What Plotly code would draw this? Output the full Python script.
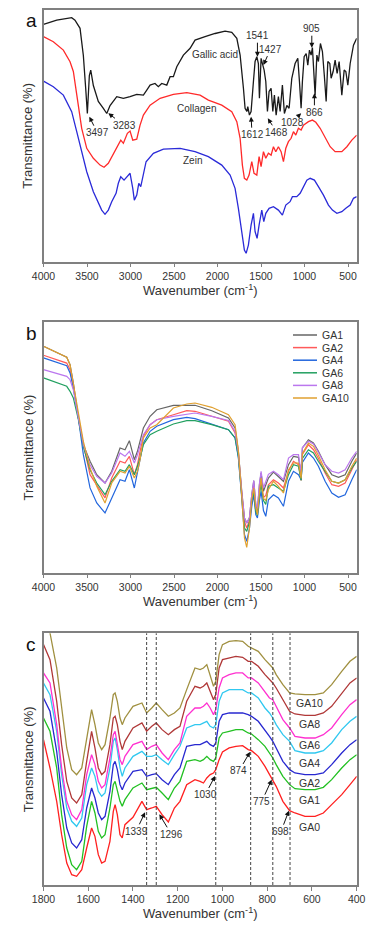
import plotly.graph_objects as go

# ---------------- Panel a data ----------------
GA_WN = [4000,3848,3676,3638,3580,3542,3515,3496,3473,3457,3427,3370,3312,3273,3235,3158,3082,3005,2928,2852,
         2813,2775,2718,2680,2641,2583,2545,2507,2468,2392,2315,2258,2143,2028,1913,1836,1778,1740,1702,1683,
         1663,1652,1633,1614,1587,1568,1548,1530,1518,1499,1479,1464,1445,1426,1407,1384,1364,1346,1326,1300,
         1280,1254,1231,1203,1177,1146,1108,1077,1058,1039,1024,1004,981,962,943,924,909,893,878,858,
         840,817,794,771,751,732,709,694,671,648,625,602,571,544,525,502,475,437,400]
GA_T = [118.6,120.7,121.9,120.7,116.6,103,86.6,74,93,95.7,88,80,76.6,74,78,82.4,81.6,82.4,83.6,83.2,
        85.7,88.2,89,87.4,89,88.2,92.4,92.4,97.4,103.2,106.6,110.7,112.4,114,115.2,114.6,111.6,103.2,86.6,76.6,
        75,77.4,73.2,75,90,100,102.4,99,81.6,101.6,98.2,95.7,90,75,85,86.6,75,83.2,73.2,82.4,
        75,88.2,74,78,76.6,91.6,99,101.6,90,76.6,90,102.4,104,98.2,105.7,103.2,107,90,83.2,103.2,
        100,109,105,92.4,80,100,99,91.6,95,100.7,94,100,83.2,95.7,95,88.2,99,108.2,111.6]

COL_WN = [4000,3887,3772,3695,3657,3618,3561,3503,3427,3350,3304,3255,3197,3140,3112,3082,3036,3005,2974,2928,
          2890,2852,2775,2660,2507,2353,2200,2105,1951,1836,1778,1740,1714,1691,1663,1637,1606,1580,1548,1522,
          1499,1472,1445,1415,1384,1357,1330,1300,1269,1242,1215,1185,1154,1127,1100,1070,1039,1012,955,909,
          870,820,763,705,648,571,513,456,400]
COL_T = [112.4,109.9,105.7,99.9,95,83.2,66.6,56.6,51.6,48.2,47.1,49.1,54.1,59.1,60.7,59.1,64.1,65.2,60.7,61.2,
         68.2,73.2,78.2,81.6,83.6,84.4,83.2,80.7,78.2,74.9,69.9,61.6,48.2,41.6,40.7,43.2,49.9,44.1,43.2,52.4,
         47.4,54.9,51.6,54.1,53.2,57.4,54.9,57.4,54.9,49.9,56.6,59.9,61.6,64.9,63.2,66.6,65.7,68.2,69.9,70.7,
         69.6,66.6,62.4,57.4,54.9,54.9,57.4,60.7,63.2]

ZEIN_WN = [4000,3887,3772,3676,3618,3561,3503,3427,3370,3331,3293,3255,3216,3166,3140,3112,3074,3036,3005,2974,
           2956,2928,2905,2882,2859,2821,2737,2622,2430,2258,2105,1951,1855,1798,1760,1721,1691,1671,1645,1614,
           1587,1568,1545,1522,1491,1468,1445,1407,1357,1300,1254,1215,1166,1139,1089,1050,1012,973,935,886,
           840,782,725,679,628,571,525,475,437,400]
ZEIN_T = [90.2,87.4,83.2,74.9,64.9,54.9,44.9,34.9,29.9,25.7,23.6,25.7,29.9,34.1,39.1,42.4,40.7,42.4,44.1,36.6,
          30.7,33.2,39.1,37.4,42.4,49.9,54.1,56.2,56.6,54.9,52.4,48.2,43.2,36.6,26.6,13.2,5.7,4.1,8.2,18.2,
          24.1,14.9,11.6,18.2,25.7,19.9,24.1,26.6,27.4,25.7,23.2,28.2,29.9,32.4,32.4,34.1,37.4,40.7,41.6,40.7,
          37.4,33.2,28.2,25.7,24.1,24.9,26.6,28.2,31.6,32.4]

A_NAMES = ["Gallic acid", "Collagen", "Zein"]
A_NAME_X = [2028, 2246, 2292]
A_NAME_Y = [103.75, 76.75, 50.75]

A_PEAK_LABELS = ["3497", "3283", "1612", "1541", "1427", "1468", "1028", "905", "866"]
A_PEAK_X = [3473, 3255, 1614, 1541, 1472, 1422, 1039, 916, 886]
A_PEAK_Y = [72.4, 74.1, 72.4, 102.4, 98.2, 71.6, 74.1, 106.9, 84.1]

# ---------------- Panel b data ----------------
B_WN = [4000,3733,3695,3657,3599,3542,3465,3388,3293,3216,3120,3063,3013,2956,2920,2890,2852,2775,2698,2507,
        2353,2258,2066,1874,1798,1760,1721,1690,1664,1633,1606,1583,1560,1541,1518,1499,1472,1445,1415,1357,
        1300,1242,1184,1127,1069,1039,1024,955,897,840,763,686,609,533,456,400]
B_NAMES = ["GA1", "GA2", "GA4", "GA6", "GA8", "GA10"]
B_GA1 = [113.1,107.6,103.9,94.8,77.3,63.9,55.6,48.9,44.75,50.6,62.25,61.4,65.9,56.4,60.6,65.6,72.25,78.1,81.4,83.6,
         83.6,83.6,80.9,77.25,72.25,60.6,40.6,27.25,24.75,27.25,38.9,45.9,33.9,31.4,43.9,49.75,40.6,43.9,47.25,50.25,
         48.1,45.6,53.9,58.1,57.6,48.9,62.25,66.4,64.75,60.6,53.9,48.9,47.6,48.9,55.6,59.75]
B_GA2 = [108.6,104.7,101.4,93.1,77.3,63.9,48.9,43.9,37.3,47.25,55.6,54.75,58.1,48.9,53.9,60.6,68.1,73.9,76.4,78.9,
         80.9,80.6,78.1,75.6,69.75,59,39.5,25.5,22.25,26,37,43.1,31.5,29.5,41,45.6,37.5,38.5,43.9,46.4,
         44.75,42.25,50.6,55.6,53.9,46,59,63.9,61.4,57,49.75,43.9,43.1,44.75,51.4,56.4]
B_GA4 = [107.3,103.4,99.8,92.3,77.3,58.9,42.3,34.75,29.75,37.25,46.4,45.6,51.4,42.25,50.6,57.25,64.75,70.6,73.1,76.4,
         77.6,76.9,74.25,71.4,67.25,57.25,37,19,15.6,22,33,38.9,28.9,27.25,36,40.6,31,28.1,36.4,38.9,
         37.25,33.1,45.6,50.6,48.9,46.4,55,59.75,57.25,53.1,45.6,39.75,37.6,38.9,46.4,51.4]
B_GA6 = [97.3,93.1,90.6,87.3,76.4,63,51.4,44.75,38.9,45.6,51.4,50.6,53.9,48.9,53.1,57.25,63.9,68.9,70.6,74.25,
         75.9,75.9,73.9,71.4,67.25,58,38,22.25,20.6,25,36,40.6,30.5,28.5,39,43.9,36,34,43.1,43.9,
         42.25,40.6,48.9,53.9,53.1,46,57,61.4,59.75,55.5,50.6,45.6,44.75,46.4,52.25,55.6]
B_GA8 = [101.4,98.1,96.4,91.4,77.3,63.9,53.9,48.1,44.75,49.75,59.75,58.1,60.6,54.75,58.9,63.9,68.9,73.9,76.4,78.1,
         79.25,79.75,78.1,76,70.5,60,40,27.25,24.75,27.5,39,46,34.5,32,44.5,50.6,42.25,45.5,49.1,50.6,
         48.9,46.4,57.25,58.9,58.9,50,62.5,65.6,64.25,60,53.9,50.6,49.75,51.4,57.25,60.6]
B_GA10 = [113.1,107.6,103.9,94.8,78.9,65.6,52.3,43.1,34.75,44.75,50.6,49.75,53.1,47.25,50.6,56.4,67.25,72.25,73.9,82.25,
          84.25,84.75,82.6,78.9,73.9,61,38,17.25,12.6,22,36.5,42.25,32.25,28.9,40,47.25,37,36,41.4,45.6,
          43.1,39.75,51.4,54.75,54.75,47,59.5,64.75,63.1,58.5,51.4,45.6,44.75,46.4,53.1,57.25]

# ---------------- Panel c data ----------------
C_WN = [1800,1771,1741,1719,1696,1674,1652,1629,1607,1585,1570,1555,1540,1525,1503,1488,1480,1470,1458,1448,
        1436,1400,1360,1339,1316,1296,1270,1242,1215,1190,1160,1123,1100,1085,1070,1055,1040,1030,1015,1000,
        970,940,910,885,870,840,810,790,775,760,730,700,676,631,586,549,512,467,430,400]
C_NAMES = ["GA0", "GA1", "GA2", "GA4", "GA6", "GA8", "GA10"]
C_GA0 = [436,351,251,151,66,31,26,46,111,171,146,91,66,71,131,221,241,211,151,141,
         181,203,251,226,231,236,211,189,231,251,301,316,311,306,321,331,336,346,376,399,
         411,416,418,406,403,386,356,331,316,296,251,223,216,206,206,216,241,271,301,326]
C_GA1 = [501,461,351,211,111,61,46,71,176,251,216,161,141,151,231,301,311,286,251,236,
         256,291,306,286,291,293,276,256,291,311,371,376,371,376,386,376,371,381,441,456,
         461,466,466,456,453,436,416,396,381,361,326,301,289,286,286,293,316,351,376,391]
C_GA2 = [561,521,401,271,171,126,111,136,231,291,261,216,196,206,281,361,371,346,301,286,
         306,341,346,326,331,334,316,301,331,351,416,421,421,426,431,421,416,426,491,511,
         516,516,516,511,506,491,466,446,431,411,371,346,336,331,331,336,361,396,421,436]
C_GA4 = [606,571,461,331,231,191,176,201,301,351,326,281,266,276,351,431,441,406,351,326,
         351,386,401,386,386,391,376,361,391,416,471,481,481,486,491,476,471,481,551,576,
         586,586,586,576,576,561,531,516,501,481,451,431,403,396,396,403,426,466,491,506]
C_GA6 = [636,606,481,351,251,211,196,226,331,391,361,311,291,301,381,451,461,426,376,361,
         386,421,431,406,416,421,396,376,406,426,506,531,531,536,546,531,511,526,591,621,
         631,636,636,621,621,606,581,561,556,536,496,471,446,441,441,451,471,511,541,556]
C_GA8 = [721,676,551,421,311,261,246,271,371,461,411,351,331,341,421,501,506,481,431,406,
         431,471,486,461,476,486,466,451,466,476,551,596,591,596,606,581,556,571,651,676,
         681,686,683,671,671,656,631,616,606,591,556,521,513,509,509,516,536,576,606,621]
C_GA10 = [811,756,651,531,411,346,331,351,441,526,481,426,406,421,501,571,576,551,501,481,
          501,536,546,516,531,546,526,506,516,531,586,651,646,651,661,631,596,611,691,721,
          731,733,731,716,711,701,676,661,651,631,601,576,573,571,571,576,601,641,671,686]
C_LABEL_X = [609] * 7
C_LABEL_Y = [174, 256, 306, 366, 419, 483, 546]

C_MARKS = [1339, 1296, 1030, 874, 775, 698]
C_MARK_LABELS = ["1339", "1296", "1030", "874", "775", "698"]
C_MARK_TIP_X = [1346, 1282, 1033, 877, 780, 703]
C_MARK_TIP_Y = [218, 212, 327, 399, 316, 223]

# ---------------- Styling / layout ----------------
W, H = 377, 931
FONT = "Liberation Sans, Arial, sans-serif"
TXT = "#333333"
FRAME = "#808080"
PX_L, PX_R = 43.5, 356.7
PANEL_PX = [(10, 261.5), (322.3, 572.5), (633.3, 885)]
Y_RANGES = [[0, 125.75], [0, 125.1], [0, 755]]

def px2paper_x(px):
    return px / W

def px2paper_y(py):
    return 1 - py / H

fig = go.Figure()

A_COLORS = ["#1a1a1a", "#ff2a2a", "#2a2ad8"]
for (xs, ys), col in zip([(GA_WN, GA_T), (COL_WN, COL_T), (ZEIN_WN, ZEIN_T)], A_COLORS):
    fig.add_trace(go.Scatter(x=xs, y=ys, mode="lines", line=dict(color=col, width=1.3),
                             xaxis="x", yaxis="y", showlegend=False, hoverinfo="skip"))

B_COLORS = ["#666666", "#ff5a5a", "#2266dd", "#22a060", "#bb77ee", "#e0a030"]
for name, ys, col in zip(B_NAMES, [B_GA1, B_GA2, B_GA4, B_GA6, B_GA8, B_GA10], B_COLORS):
    fig.add_trace(go.Scatter(x=B_WN, y=ys, mode="lines", name=name, line=dict(color=col, width=1.2),
                             xaxis="x2", yaxis="y2", showlegend=False, hoverinfo="skip"))

C_COLORS = ["#ff2020", "#22c022", "#2828d0", "#30c8f0", "#ff30d0", "#b03838", "#a09040"]
for name, ys, col in zip(C_NAMES, [C_GA0, C_GA1, C_GA2, C_GA4, C_GA6, C_GA8, C_GA10], C_COLORS):
    fig.add_trace(go.Scatter(x=C_WN, y=ys, mode="lines", name=name, line=dict(color=col, width=1.3),
                             xaxis="x3", yaxis="y3", showlegend=False, hoverinfo="skip"))

def xaxis(rng, ticks, anchor):
    return dict(domain=[px2paper_x(PX_L), px2paper_x(PX_R)], range=rng, tickvals=ticks,
                ticktext=[str(t) for t in ticks], ticks="outside", ticklen=4, tickwidth=1,
                tickcolor=FRAME, showline=True, linecolor=FRAME, linewidth=1.5, mirror=True,
                showgrid=False, zeroline=False, anchor=anchor, automargin=False,
                tickfont=dict(family=FONT, size=10.5, color=TXT))

def yaxis(i, anchor):
    top, bot = PANEL_PX[i]
    return dict(domain=[px2paper_y(bot), px2paper_y(top)], range=Y_RANGES[i], showticklabels=False,
                ticks="", showline=True, linecolor=FRAME, linewidth=1.5, mirror=True,
                showgrid=False, zeroline=False, anchor=anchor, automargin=False)

ann = []
for i, letter in enumerate(["a", "b", "c"]):
    top, bot = PANEL_PX[i]
    ann.append(dict(text=letter, x=px2paper_x(31), y=px2paper_y(top + 11), xref="paper", yref="paper",
                    showarrow=False, font=dict(family=FONT, size=19, color="#111"),
                    xanchor="center", yanchor="middle"))
    ann.append(dict(text="Transmittance (%)", x=px2paper_x(28), y=px2paper_y((top + bot) / 2),
                    xref="paper", yref="paper", showarrow=False, textangle=-90,
                    font=dict(family=FONT, size=13, color=TXT), xanchor="center", yanchor="middle"))
    ann.append(dict(text="Wavenumber (cm<sup>-1</sup>)", x=px2paper_x((PX_L + PX_R) / 2),
                    y=px2paper_y(bot + 28), xref="paper", yref="paper", showarrow=False,
                    font=dict(family=FONT, size=13, color=TXT), xanchor="center", yanchor="middle"))

for t, x, y in zip(A_NAMES, A_NAME_X, A_NAME_Y):
    ann.append(dict(text=t, x=x, y=y, xref="x", yref="y", showarrow=False,
                    font=dict(family=FONT, size=10, color=TXT)))
A_OFFSETS = [(8, 16), (16, 12), (1, 18), (0, -21), (7, -16), (9, 14), (-9, 9), (0, -19), (0, 19)]
for t, x, y, (ax, ay) in zip(A_PEAK_LABELS, A_PEAK_X, A_PEAK_Y, A_OFFSETS):
    ann.append(dict(text=t, x=x, y=y, xref="x", yref="y", showarrow=True, ax=ax, ay=ay,
                    arrowhead=2, arrowsize=1, arrowwidth=1, arrowcolor="#111",
                    font=dict(family=FONT, size=10, color=TXT)))

LEG_TOP, LEG_STEP = 335, 12.6
shapes = []
for i, (name, col) in enumerate(zip(B_NAMES, B_COLORS)):
    yy = px2paper_y(LEG_TOP + i * LEG_STEP)
    shapes.append(dict(type="line", xref="paper", yref="paper", x0=px2paper_x(293), x1=px2paper_x(317),
                       y0=yy, y1=yy, line=dict(color=col, width=1.5)))
    ann.append(dict(text=name, x=px2paper_x(320), y=yy, xref="paper", yref="paper", showarrow=False,
                    xanchor="left", yanchor="middle", font=dict(family=FONT, size=10.5, color=TXT)))

for t, x, y in zip(C_NAMES, C_LABEL_X, C_LABEL_Y):
    ann.append(dict(text=t, x=x, y=y, xref="x3", yref="y3", showarrow=False,
                    font=dict(family=FONT, size=10.5, color=TXT)))
for m in C_MARKS:
    shapes.append(dict(type="line", xref="x3", yref="y3 domain", x0=m, x1=m, y0=0, y1=1,
                       line=dict(color="#444444", width=1, dash="3px,2px")))
C_OFFSETS = [(-9, 19), (12, 20), (-10, 19), (-11, 19), (-10, 22), (-8, 21)]
for t, x, y, (ax, ay) in zip(C_MARK_LABELS, C_MARK_TIP_X, C_MARK_TIP_Y, C_OFFSETS):
    ann.append(dict(text=t, x=x, y=y, xref="x3", yref="y3", showarrow=True, ax=ax, ay=ay,
                    arrowhead=2, arrowsize=1, arrowwidth=1, arrowcolor="#111",
                    font=dict(family=FONT, size=10, color=TXT)))

fig.update_layout(
    template="none",
    width=W, height=H, autosize=False,
    margin=dict(l=0, r=0, t=0, b=0, pad=0, autoexpand=False),
    paper_bgcolor="white", plot_bgcolor="white",
    showlegend=False,
    xaxis=xaxis([4000, 400], [4000, 3500, 3000, 2500, 2000, 1500, 1000, 500], "y"),
    yaxis=yaxis(0, "x"),
    xaxis2=xaxis([4000, 400], [4000, 3500, 3000, 2500, 2000, 1500, 1000, 500], "y2"),
    yaxis2=yaxis(1, "x2"),
    xaxis3=xaxis([1800, 400], [1800, 1600, 1400, 1200, 1000, 800, 600, 400], "y3"),
    yaxis3=yaxis(2, "x3"),
    annotations=ann,
    shapes=shapes,
)

fig.write_html("out.html", config={"responsive": False, "displayModeBar": False},
               post_script="document.body.style.margin='0';document.body.style.padding='0';")
